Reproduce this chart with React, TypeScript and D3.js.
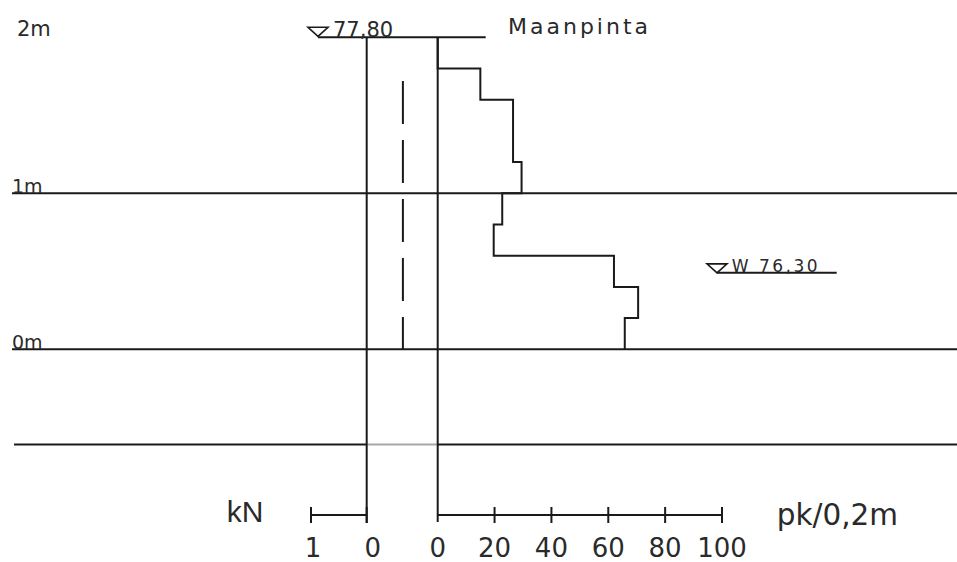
import React from "react";
import * as d3 from "d3";

// ---- data ----
const levelValues = [0, 1, 2];
const levelLabels = ["0m", "1m", "2m"];
const pkTicks = [0, 20, 40, 60, 80, 100];
const pkTickLabels = ["0", "20", "40", "60", "80", "100"];
const knTicks = [1, 0];
const knTickLabels = ["1", "0"];
// penetration resistance, half-turns per 0.2 m, from level 2.0 m downward
const pkIntervalTops = [2.0, 1.8, 1.6, 1.4, 1.2, 1.0, 0.8, 0.6, 0.4, 0.2];
const pkValues = [0, 15, 26.5, 26.5, 29.5, 22.7, 19.7, 62, 70.5, 65.8];
const knValue = -0.65;
const knFrom = 1.72;
const knTo = 0;
const groundLevel = 2;
const groundLabel = "77,80";
const waterLevel = 0.49;
const waterLabel = "W 76,30";
const bottomLevel = -0.61;

const W = 957;
const H = 562;

export default function App() {
  const y = d3.scaleLinear().domain([0, 2]).range([349.3, 37.3]);
  const xPk = d3.scaleLinear().domain([0, 100]).range([437.7, 722]);
  const xKn = d3.scaleLinear().domain([0, 1]).range([366.7, 311]);

  const stroke = "#1a1a1a";
  const sw = 2;
  const axisY = 515;
  const tickLabelY = 557;

  // step path
  const pts: [number, number][] = [[xPk(0), y(groundLevel)]];
  pkIntervalTops.forEach((top, i) => {
    const v = pkValues[i];
    pts.push([xPk(v), y(top)]);
    pts.push([xPk(v), y(top - 0.2)]);
  });
  const stepPath = d3.line()(pts) || "";

  const gx0 = 318;
  const gx1 = 485.7;
  const wx0 = 717;
  const wx1 = 836.7;
  const tri = (x: number, yy: number) =>
    `M${x},${yy} L${x - 10},${yy - 9} L${x + 10},${yy - 9} Z`;

  const font = "'DejaVu Sans', sans-serif";
  const textFill = "#2a2a2a";

  return (
    <div style={{ position: "absolute", left: 0, top: 0 }}>
      <svg width={W} height={H} style={{ display: "block", background: "#fff" }}>
        {/* level lines */}
        {[1, 0].map((lv) => (
          <line key={lv} x1={12} x2={W} y1={y(lv)} y2={y(lv)} stroke={stroke} strokeWidth={sw} />
        ))}
        <line x1={14} x2={xKn(0)} y1={y(bottomLevel)} y2={y(bottomLevel)} stroke={stroke} strokeWidth={sw} />
        <line x1={xKn(0)} x2={xPk(0)} y1={y(bottomLevel)} y2={y(bottomLevel)} stroke="#a8a8a8" strokeWidth={sw} />
        <line x1={xPk(0)} x2={W} y1={y(bottomLevel)} y2={y(bottomLevel)} stroke={stroke} strokeWidth={sw} />

        {/* level labels */}
        {levelValues.map((lv, i) => (
          <text
            key={lv}
            x={lv === 2 ? 17 : 12}
            y={lv === 2 ? y(lv) - 1.5 : y(lv) - 0.5}
            fontFamily={font}
            fontSize={lv === 2 ? 21 : 19}
            fill={textFill}
          >
            {levelLabels[i]}
          </text>
        ))}

        {/* ground line */}
        <line x1={gx0} x2={gx1} y1={y(groundLevel)} y2={y(groundLevel)} stroke={stroke} strokeWidth={sw} />
        <path d={tri(gx0, y(groundLevel) - 1)} fill="none" stroke={stroke} strokeWidth={1.6} />
        <text x={333} y={y(groundLevel)} fontFamily={font} fontSize={21} fill={textFill}>
          {groundLabel}
        </text>
        <text x={508} y={34} fontFamily={font} fontSize={22} letterSpacing={3} fill={textFill}>
          Maanpinta
        </text>

        {/* verticals */}
        <line x1={xKn(0)} x2={xKn(0)} y1={y(groundLevel)} y2={523} stroke={stroke} strokeWidth={sw} />
        <line x1={xPk(0)} x2={xPk(0)} y1={y(groundLevel)} y2={522} stroke={stroke} strokeWidth={sw} />

        {/* kN dashed */}
        <line
          x1={xKn(knValue)}
          x2={xKn(knValue)}
          y1={y(knFrom)}
          y2={y(knTo)}
          stroke={stroke}
          strokeWidth={sw}
          strokeDasharray="43 16"
        />

        {/* step */}
        <path d={stepPath} fill="none" stroke={stroke} strokeWidth={sw} />

        {/* water */}
        <line x1={wx0} x2={wx1} y1={y(waterLevel)} y2={y(waterLevel)} stroke={stroke} strokeWidth={sw} />
        <path d={tri(wx0, y(waterLevel))} fill="none" stroke={stroke} strokeWidth={1.6} />
        <text
          x={731.7}
          y={y(waterLevel) - 0.5}
          fontFamily={font}
          fontSize={17}
          letterSpacing={2.5}
          fill={textFill}
        >
          {waterLabel}
        </text>

        {/* kN axis */}
        <line x1={xKn(1)} x2={xKn(0)} y1={axisY} y2={axisY} stroke={stroke} strokeWidth={sw} />
        {knTicks.map((t, i) => (
          <g key={"kn" + t}>
            <line x1={xKn(t)} x2={xKn(t)} y1={507} y2={523} stroke={stroke} strokeWidth={sw} />
            <text
              x={xKn(t) + (t === 0 ? 6 : 2)}
              y={tickLabelY}
              textAnchor="middle"
              fontFamily={font}
              fontSize={26}
              fill={textFill}
            >
              {knTickLabels[i]}
            </text>
          </g>
        ))}
        <text x={226.7} y={522} fontFamily="'Liberation Sans', sans-serif" fontSize={30} fill={textFill}>
          kN
        </text>

        {/* pk axis */}
        <line x1={xPk(0)} x2={xPk(100)} y1={axisY} y2={axisY} stroke={stroke} strokeWidth={sw} />
        {pkTicks.map((t, i) => (
          <g key={"pk" + t}>
            {t > 0 && (
              <line x1={xPk(t)} x2={xPk(t)} y1={507} y2={523} stroke={stroke} strokeWidth={sw} />
            )}
            <text
              x={xPk(t)}
              y={tickLabelY}
              textAnchor="middle"
              fontFamily={font}
              fontSize={26}
              fill={textFill}
            >
              {pkTickLabels[i]}
            </text>
          </g>
        ))}
        <text x={776.7} y={525} fontFamily={font} fontSize={29.5} fill={textFill}>
          pk/0,2m
        </text>
      </svg>
    </div>
  );
}
